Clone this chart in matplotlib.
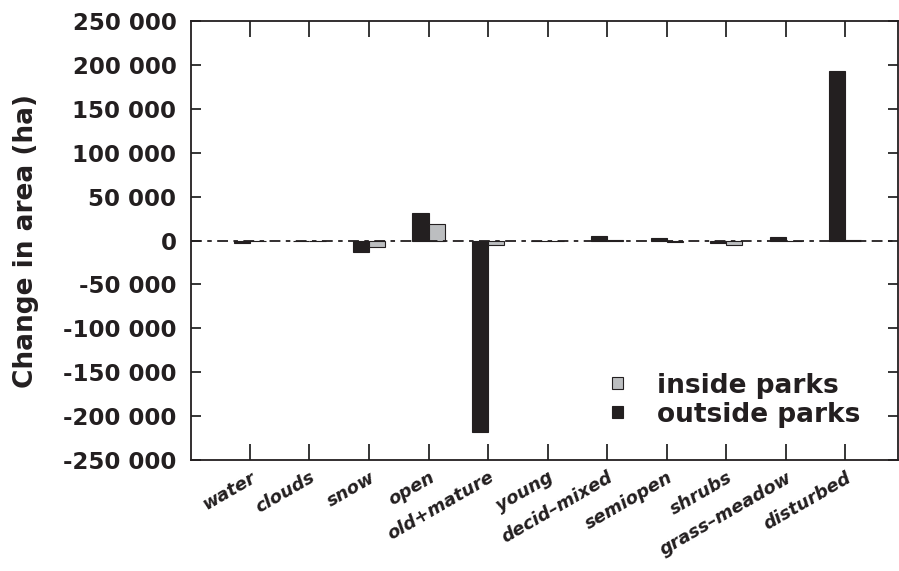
import matplotlib
matplotlib.use("Agg")
import matplotlib.pyplot as plt
import numpy as np
from matplotlib.patches import Patch

categories = ["water", "clouds", "snow", "open", "old+mature", "young",
              "decid\u2013mixed", "semiopen", "shrubs", "grass\u2013meadow", "disturbed"]
outside_parks = [-3000, -500, -13500, 31500, -218000, -1000, 5000, 2500, -3000, 3500, 193000]
inside_parks = [-1000, 0, -7000, 19000, -5000, -1000, 1000, -2000, -5500, -1000, 1000]
yticks = [-250000, -200000, -150000, -100000, -50000, 0, 50000, 100000, 150000, 200000, 250000]
ytick_labels = ["-250 000", "-200 000", "-150 000", "-100 000", "-50 000", "0",
                "50 000", "100 000", "150 000", "200 000", "250 000"]

plt.rcParams['font.family'] = ['DejaVu Sans']

fig = plt.figure(figsize=(8.99, 5.71), dpi=100)
ax = fig.add_axes([0.2125, 0.1944, 0.7865, 0.7686])

x = np.arange(len(categories))
w = 0.27
ax.bar(x - w / 2, outside_parks, width=w, color="#231f20", edgecolor="#231f20", linewidth=0.8, zorder=2)
ax.bar(x + w / 2, inside_parks, width=w, color="#bcbec0", edgecolor="#231f20", linewidth=0.8, zorder=2)
ax.axhline(0, color="#231f20", linewidth=1.3, linestyle=(0, (6, 3, 2.5, 3)), zorder=3)

ax.set_xlim(-0.99, 10.89)
ax.set_ylim(-250000, 250000)
ax.set_yticks(yticks)
ax.set_yticklabels(ytick_labels, fontsize=16.5, fontweight="bold", color="#231f20")
ax.set_xticks(x)
ax.set_xticklabels(categories, rotation=30, ha="right", rotation_mode="anchor",
                   fontsize=13, fontweight="bold", fontstyle="italic", color="#231f20")
ax.tick_params(axis="x", direction="in", length=11.5, width=1.1, top=True, bottom=True, pad=6)
ax.tick_params(axis="y", direction="in", length=7, width=1.1, left=True, right=True, pad=10.5)
for s in ax.spines.values():
    s.set_linewidth(1.3)
    s.set_color("#231f20")

ax.set_ylabel("Change in area (ha)", fontsize=19, fontweight="bold", color="#231f20", labelpad=17)

handles = [Patch(facecolor="#bcbec0", edgecolor="#231f20", linewidth=0.8, label="inside parks"),
           Patch(facecolor="#231f20", edgecolor="#231f20", linewidth=0.8, label="outside parks")]
leg = ax.legend(handles=handles, loc="upper left", bbox_to_anchor=(0.595, 0.199), frameon=False,
                prop={"size": 19, "weight": "bold"}, handlelength=0.42, handleheight=0.33,
                handletextpad=1.3, labelspacing=0.12, borderpad=0, borderaxespad=0)
for t in leg.get_texts():
    t.set_color("#231f20")

fig.savefig("out.png", dpi=100)
